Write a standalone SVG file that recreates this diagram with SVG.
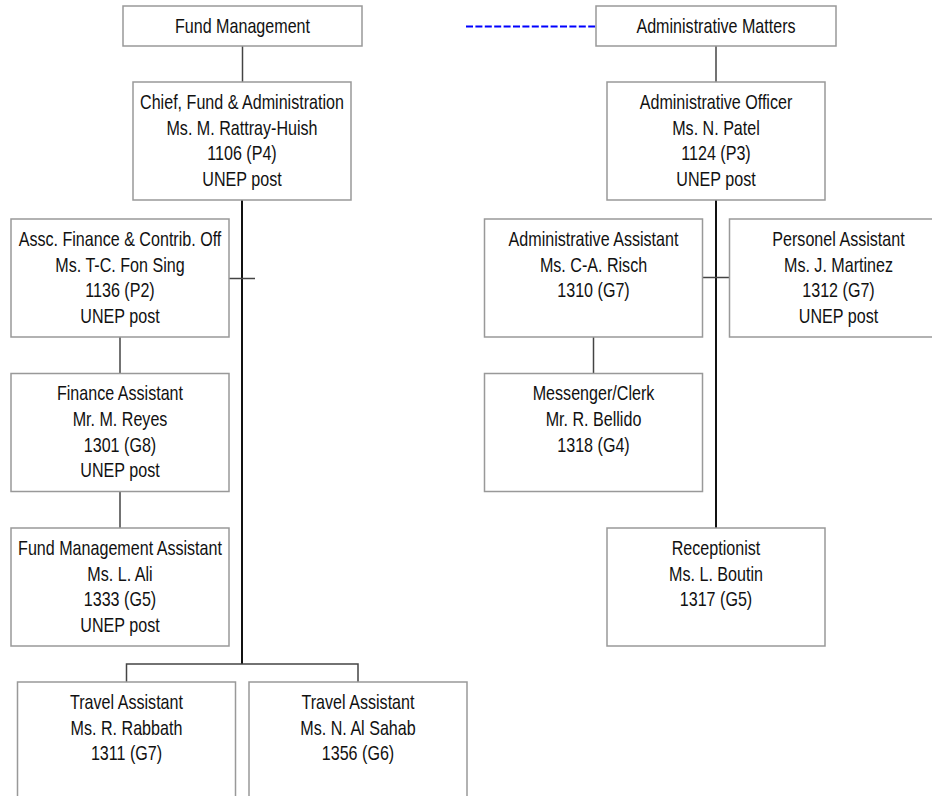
<svg xmlns="http://www.w3.org/2000/svg" width="932" height="796" viewBox="0 0 932 796">
<style>
.box{fill:#fff;stroke:#999;stroke-width:1.5}
.t{font-family:"Liberation Sans",Arial,sans-serif;font-size:20px;fill:#111;text-anchor:middle}
.c{fill:none;stroke:#444;stroke-width:1.5}
.m{fill:none;stroke:#111;stroke-width:2}
.d{fill:none;stroke:#0000ff;stroke-width:2.2;stroke-dasharray:7 2.4}
</style>
<rect width="932" height="796" fill="#fff"/>
<g id="connectors">
<line class="c" x1="242.5" y1="46" x2="242.5" y2="82"/>
<line class="c" x1="716" y1="46" x2="716" y2="82"/>
<line class="d" x1="466" y1="26.5" x2="596" y2="26.5"/>
<line class="m" x1="242" y1="200" x2="242" y2="664"/>
<line class="c" x1="229" y1="278.5" x2="255" y2="278.5"/>
<line class="c" x1="120" y1="337" x2="120" y2="373.5"/>
<line class="c" x1="120" y1="491.5" x2="120" y2="528"/>
<polyline class="c" points="126.5,682 126.5,664 358,664 358,682"/>
<line class="m" x1="716" y1="200" x2="716" y2="528"/>
<line class="c" x1="702.5" y1="277.5" x2="729.5" y2="277.5"/>
<line class="c" x1="593.5" y1="337" x2="593.5" y2="373.5"/>
</g>
<g id="fund-management">
<rect class="box" x="123" y="6" width="239" height="40"/>
<text class="t" transform="translate(242.5 0) scale(0.805 1)"><tspan x="0" y="33">Fund Management</tspan></text>
</g>
<g id="administrative-matters">
<rect class="box" x="596" y="6" width="240" height="40"/>
<text class="t" transform="translate(716 0) scale(0.805 1)"><tspan x="0" y="33">Administrative Matters</tspan></text>
</g>
<g id="chief">
<rect class="box" x="133" y="82" width="218" height="118"/>
<text class="t" transform="translate(242 0) scale(0.805 1)"><tspan x="0" y="109">Chief, Fund &amp; Administration</tspan><tspan x="0" y="134.7">Ms. M. Rattray-Huish</tspan><tspan x="0" y="160.4">1106 (P4)</tspan><tspan x="0" y="186">UNEP post</tspan></text>
</g>
<g id="admin-officer">
<rect class="box" x="607" y="82" width="218" height="118"/>
<text class="t" transform="translate(716 0) scale(0.805 1)"><tspan x="0" y="109">Administrative Officer</tspan><tspan x="0" y="134.7">Ms. N. Patel</tspan><tspan x="0" y="160.4">1124 (P3)</tspan><tspan x="0" y="186">UNEP post</tspan></text>
</g>
<g id="assc-finance">
<rect class="box" x="11" y="219" width="218" height="118"/>
<text class="t" transform="translate(120 0) scale(0.805 1)"><tspan x="0" y="246">Assc. Finance &amp; Contrib. Off</tspan><tspan x="0" y="271.7">Ms. T-C. Fon Sing</tspan><tspan x="0" y="297.4">1136 (P2)</tspan><tspan x="0" y="323">UNEP post</tspan></text>
</g>
<g id="admin-assistant">
<rect class="box" x="484.5" y="219" width="218" height="118"/>
<text class="t" transform="translate(593.5 0) scale(0.805 1)"><tspan x="0" y="246">Administrative Assistant</tspan><tspan x="0" y="271.7">Ms. C-A. Risch</tspan><tspan x="0" y="297.4">1310 (G7)</tspan></text>
</g>
<g id="personel-assistant">
<rect class="box" x="729.5" y="219" width="218" height="118"/>
<text class="t" transform="translate(838.5 0) scale(0.805 1)"><tspan x="0" y="246">Personel Assistant</tspan><tspan x="0" y="271.7">Ms. J. Martinez</tspan><tspan x="0" y="297.4">1312 (G7)</tspan><tspan x="0" y="323">UNEP post</tspan></text>
</g>
<g id="finance-assistant">
<rect class="box" x="11" y="373.5" width="218" height="118"/>
<text class="t" transform="translate(120 0) scale(0.805 1)"><tspan x="0" y="400.5">Finance Assistant</tspan><tspan x="0" y="426.2">Mr. M. Reyes</tspan><tspan x="0" y="451.9">1301 (G8)</tspan><tspan x="0" y="477.5">UNEP post</tspan></text>
</g>
<g id="messenger">
<rect class="box" x="484.5" y="373.5" width="218" height="118"/>
<text class="t" transform="translate(593.5 0) scale(0.805 1)"><tspan x="0" y="400.5">Messenger/Clerk</tspan><tspan x="0" y="426.2">Mr. R. Bellido</tspan><tspan x="0" y="451.9">1318 (G4)</tspan></text>
</g>
<g id="fund-management-assistant">
<rect class="box" x="11" y="528" width="218" height="118"/>
<text class="t" transform="translate(120 0) scale(0.805 1)"><tspan x="0" y="555">Fund Management Assistant</tspan><tspan x="0" y="580.7">Ms. L. Ali</tspan><tspan x="0" y="606.4">1333 (G5)</tspan><tspan x="0" y="632">UNEP post</tspan></text>
</g>
<g id="receptionist">
<rect class="box" x="607" y="528" width="218" height="118"/>
<text class="t" transform="translate(716 0) scale(0.805 1)"><tspan x="0" y="555">Receptionist</tspan><tspan x="0" y="580.7">Ms. L. Boutin</tspan><tspan x="0" y="606.4">1317 (G5)</tspan></text>
</g>
<g id="travel-assistant-1">
<rect class="box" x="17.5" y="682" width="218" height="118"/>
<text class="t" transform="translate(126.5 0) scale(0.805 1)"><tspan x="0" y="709">Travel Assistant</tspan><tspan x="0" y="734.7">Ms. R. Rabbath</tspan><tspan x="0" y="760.4">1311 (G7)</tspan></text>
</g>
<g id="travel-assistant-2">
<rect class="box" x="249" y="682" width="218" height="118"/>
<text class="t" transform="translate(358 0) scale(0.805 1)"><tspan x="0" y="709">Travel Assistant</tspan><tspan x="0" y="734.7">Ms. N. Al Sahab</tspan><tspan x="0" y="760.4">1356 (G6)</tspan></text>
</g>
</svg>
